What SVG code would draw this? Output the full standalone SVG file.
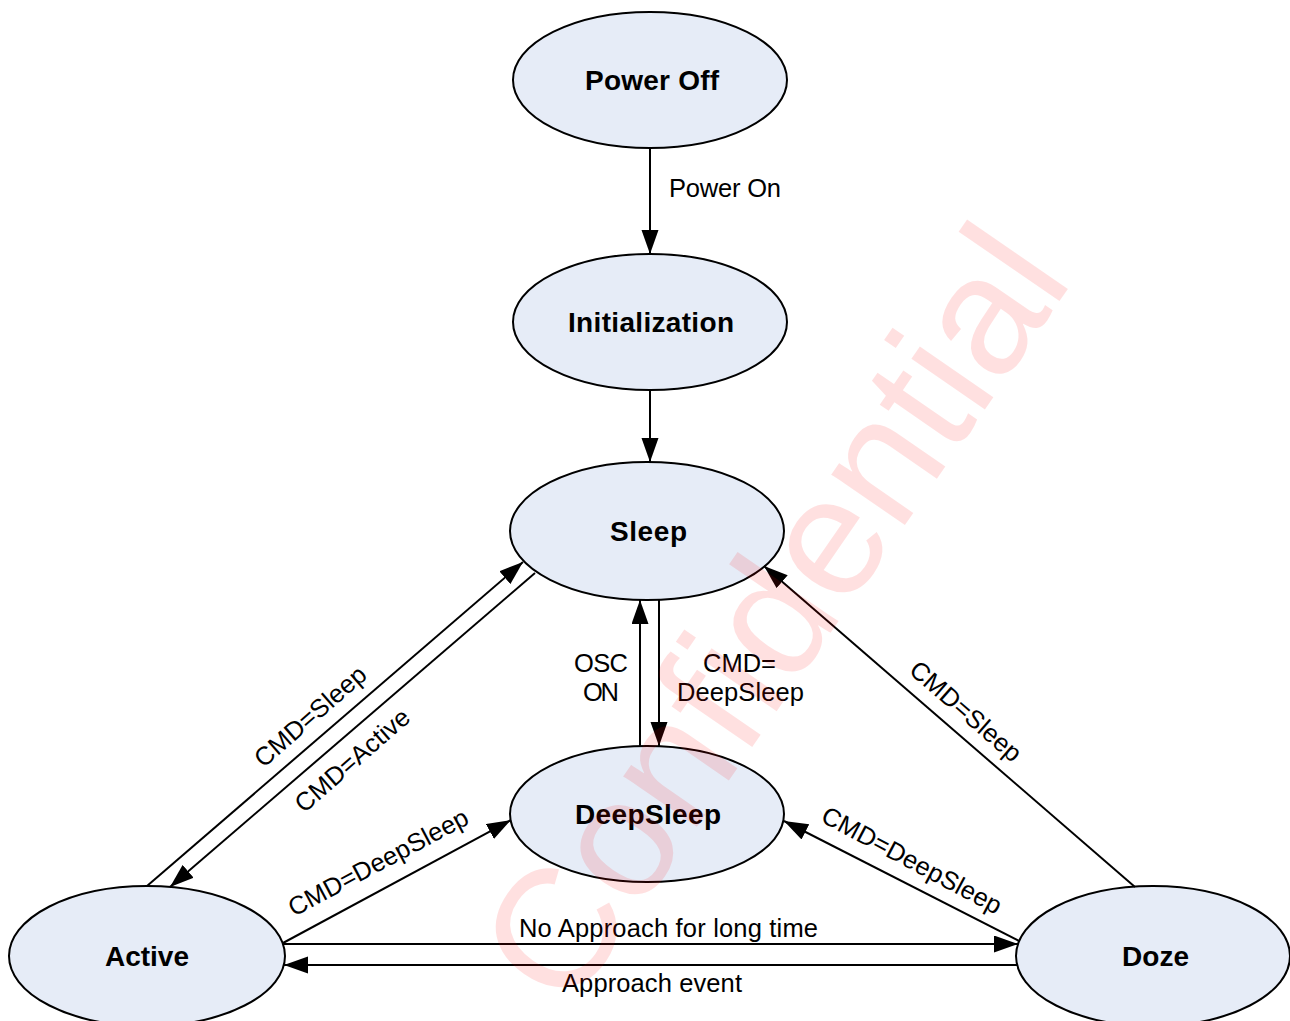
<svg xmlns="http://www.w3.org/2000/svg" width="1290" height="1021" viewBox="0 0 1290 1021">
  <style>
    .state ellipse { fill: #e6ecf7; stroke: #000; stroke-width: 2; }
    .state text { font-family: "Liberation Sans", Arial, sans-serif; font-weight: bold; font-size: 28px; fill: #000; text-anchor: middle; }
    .edge { stroke: #000; stroke-width: 2; fill: none; marker-end: url(#arrow); }
    .lbl { font-family: "Liberation Sans", Arial, sans-serif; font-size: 25.5px; fill: #000; }
    .mid { text-anchor: middle; }
    .mark { font-family: "Liberation Sans", Arial, sans-serif; font-size: 169px; fill: #ff0000; fill-opacity: 0.12; text-anchor: middle; }
  </style>
  <defs>
    <marker id="arrow" markerUnits="userSpaceOnUse" markerWidth="26" markerHeight="18" refX="24" refY="8.5" orient="auto">
      <path d="M0,0 L24,8.5 L0,17 z" fill="#000"/>
    </marker>
  </defs>

  <rect width="1290" height="1021" fill="#fff"/>

  <!-- states -->
  <g id="power-off" class="state">
    <ellipse cx="650" cy="80" rx="137" ry="68"/>
    <text x="652" y="90" textLength="134" lengthAdjust="spacing">Power Off</text>
  </g>
  <g id="initialization" class="state">
    <ellipse cx="650" cy="322" rx="137" ry="68"/>
    <text x="651" y="332" textLength="166" lengthAdjust="spacing">Initialization</text>
  </g>
  <g id="sleep" class="state">
    <ellipse cx="647" cy="531" rx="137" ry="69"/>
    <text x="648.5" y="541" textLength="77" lengthAdjust="spacing">Sleep</text>
  </g>
  <g id="deepsleep" class="state">
    <ellipse cx="647" cy="814" rx="137" ry="68"/>
    <text x="648" y="824" textLength="146" lengthAdjust="spacing">DeepSleep</text>
  </g>
  <g id="active" class="state">
    <ellipse cx="147" cy="956" rx="138" ry="70"/>
    <text x="147" y="966" textLength="84" lengthAdjust="spacing">Active</text>
  </g>
  <g id="doze" class="state">
    <ellipse cx="1153" cy="956" rx="137" ry="70"/>
    <text x="1155.5" y="966" textLength="67" lengthAdjust="spacing">Doze</text>
  </g>

  <!-- transitions -->
  <g id="connectors">
    <line class="edge" x1="650" y1="148" x2="650" y2="254"/>
    <line class="edge" x1="650" y1="390" x2="650" y2="462"/>
    <line class="edge" x1="659" y1="600" x2="659" y2="746"/>
    <line class="edge" x1="640" y1="746" x2="640" y2="600"/>
    <line class="edge" x1="147" y1="886" x2="523" y2="562"/>
    <line class="edge" x1="535" y1="573" x2="170" y2="887"/>
    <line class="edge" x1="283" y1="943" x2="511" y2="820"/>
    <line class="edge" x1="1019" y1="941" x2="784" y2="821"/>
    <line class="edge" x1="1135" y1="887" x2="764" y2="566"/>
    <line class="edge" x1="283" y1="944" x2="1018" y2="944"/>
    <line class="edge" x1="1017" y1="965" x2="284" y2="965"/>

    <text class="lbl" x="669" y="197" textLength="112" lengthAdjust="spacing">Power On</text>
    <text class="lbl mid" x="601" y="672" textLength="54" lengthAdjust="spacing">OSC</text>
    <text class="lbl mid" x="601" y="701" textLength="36" lengthAdjust="spacing">ON</text>
    <text class="lbl mid" x="739.5" y="672" textLength="73" lengthAdjust="spacing">CMD=</text>
    <text class="lbl mid" x="740.5" y="701" textLength="127" lengthAdjust="spacing">DeepSleep</text>
    <text class="lbl mid" x="668.5" y="937" textLength="299" lengthAdjust="spacing">No Approach for long time</text>
    <text class="lbl mid" x="652" y="992" textLength="180" lengthAdjust="spacing">Approach event</text>

    <text class="lbl mid" transform="translate(310,716) rotate(-41)" x="0" y="9" textLength="139" lengthAdjust="spacing">CMD=Sleep</text>
    <text class="lbl mid" transform="translate(352,760) rotate(-41)" x="0" y="9" textLength="143" lengthAdjust="spacing">CMD=Active</text>
    <text class="lbl mid" transform="translate(378,862) rotate(-28)" x="0" y="9" textLength="200" lengthAdjust="spacing">CMD=DeepSleep</text>
    <text class="lbl mid" transform="translate(966,711) rotate(41)" x="0" y="9" textLength="139" lengthAdjust="spacing">CMD=Sleep</text>
    <text class="lbl mid" transform="translate(912,860) rotate(28)" x="0" y="9" textLength="200" lengthAdjust="spacing">CMD=DeepSleep</text>
  </g>

  <!-- document watermark -->
  <text class="mark" transform="translate(821,647) rotate(-55.4)" x="0" y="0">Confidential</text>
</svg>
